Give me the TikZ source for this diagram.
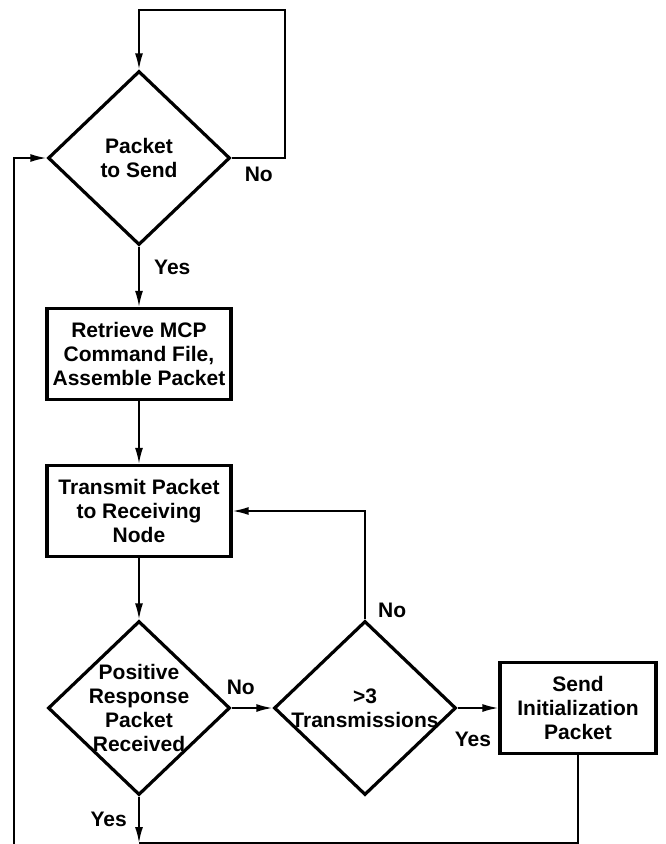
\documentclass[tikz,border=0pt]{standalone}
\usepackage{fontspec}
\setmainfont{Liberation Sans}
\usepackage{tikz}
\usetikzlibrary{shapes.geometric,positioning,arrows.meta}

\begin{document}
\begin{tikzpicture}[x=1pt, y=-1pt, node distance=196pt,
        font=\fontsize{21}{24}\selectfont\bfseries,
        decision/.style={diamond, draw, line width=3.2pt, aspect=1, inner sep=-12pt,
                minimum width=182pt, minimum height=174pt, align=center},
        block/.style={rectangle, draw, line width=3.2pt, inner sep=2pt,
                minimum width=184pt, minimum height=91pt, align=center},
        line/.style={line width=1.8pt},
        arr/.style={line, -{Latex[length=16pt,width=8pt]}},
        lbl/.style={inner sep=0pt}]
        \useasboundingbox (0,0) rectangle (666,844);
        \node[decision] (pts) at (139,158) {Packet\\to Send};
        \node[block] (retr) [below of=pts] {Retrieve MCP\\Command File,\\Assemble Packet};
        \node[block] (trans) [below of=retr, node distance=157pt] {Transmit Packet\\to Receiving\\Node};
        \node[decision] (posr) [below of=trans, node distance=197pt] {Positive\\Response\\Packet\\Received};
        \node[decision] (three) [right of=posr, node distance=226pt] {>3\\Transmissions};
        \node[block, minimum width=156pt] (init) [right of=three, node distance=213pt] {Send\\Initialization\\Packet};
        \coordinate (loop) at (285,10);
        \coordinate (join) at (139,843);
        \coordinate (back) at (14,844);
        \path;
        \draw[arr] (pts.east) -| (loop) -| (pts.north);
        \draw[arr] (pts.south) -- (retr.north);
        \draw[arr] (retr.south) -- (trans.north);
        \draw[arr] (trans.south) -- (posr.north);
        \draw[arr] (posr.east) -- (three.west);
        \draw[arr] (three.north) |- (trans.east);
        \draw[arr] (three.east) -- (init.west);
        \draw[arr] (posr.south) -- (join);
        \draw[line] (init.south) |- (join);
        \draw[arr] (back) |- (pts.west);
        \node[lbl, anchor=north west] (no1) [below right=9pt and 13pt of pts.east] {No};
        \node[lbl, anchor=north west] (yes1) [below right=13pt and 15pt of pts.south] {Yes};
        \node[lbl, anchor=south west] (no2) [above right=13pt and -5pt of posr.east] {No};
        \node[lbl, anchor=north east] (yes2) [below left=15pt and 12pt of posr.south] {Yes};
        \node[lbl, anchor=south west] (no3) [above right=2pt and 13pt of three.north] {No};
        \node[lbl, anchor=north west] (yes3) [below right=24pt and -3pt of three.east] {Yes};
\end{tikzpicture}
\end{document}
